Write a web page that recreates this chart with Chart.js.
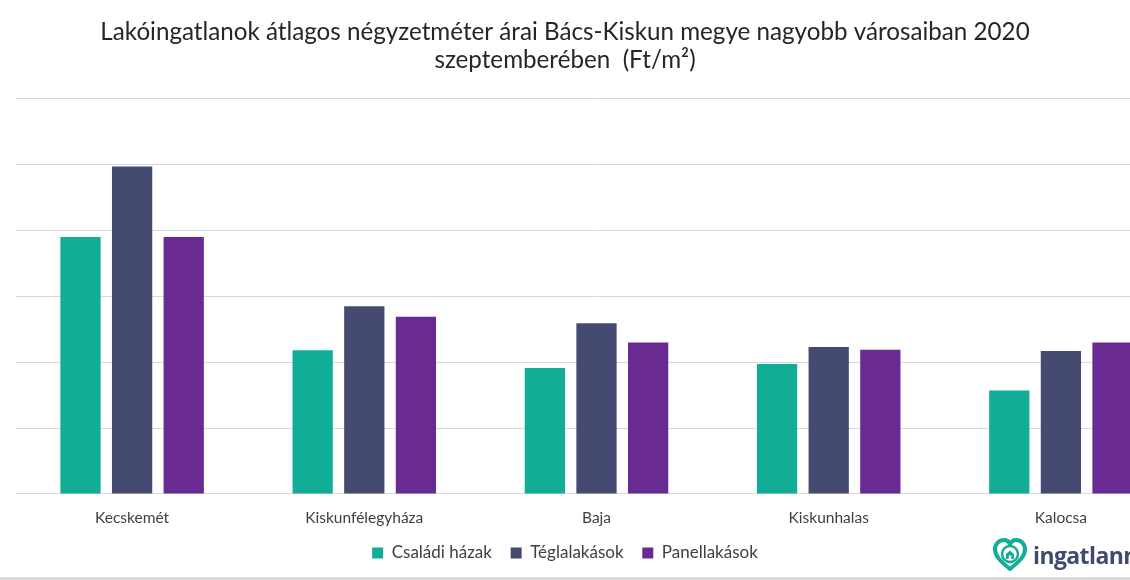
<!DOCTYPE html>
<html lang="hu">
<head>
<meta charset="utf-8">
<title>Lakóingatlanok átlagos négyzetméter árai</title>
<script src="https://cdn.jsdelivr.net/npm/chart.js@4.4.1/dist/chart.umd.min.js"></script>
<style>
    html, body { margin: 0; padding: 0; background: #fff; }
    body { width: 1130px; height: 580px; overflow: hidden; position: relative; }
    #wrap { position: absolute; left: -66px; top: 0; width: 1262px; height: 580px; }
    #logo { position: absolute; left: 992px; top: 536px; height: 38px; display: flex; align-items: center; white-space: nowrap; }
    #logo span { font-family: "Open Sans", sans-serif; font-weight: 700; font-size: 23px; color: #3f4a6e; margin-left: 5px; letter-spacing: -0.6px; }
    #bottomLine { position: absolute; left: 0; right: 0; bottom: 0; height: 3px; background: #d9d9d9; }
</style>
</head>
<body>
<div id="wrap"><canvas id="priceChart"></canvas></div>
<div id="logo">
    <svg width="36" height="36" viewBox="0 0 36 36">
        <path d="M18 32 C8 24 3 19 3 12 C3 7 7 3 12 3 C15 3 17 5 18 7 C19 5 21 3 24 3 C29 3 33 7 33 12 C33 19 28 24 18 32 Z" fill="none" stroke="#12ad97" stroke-width="4" stroke-linejoin="round"/>
        <circle cx="18" cy="17" r="8" fill="none" stroke="#12ad97" stroke-width="2.5"/>
        <path d="M14 22 L14 17 L18 13.5 L22 17 L22 22 Z" fill="#12ad97"/>
        <rect x="16.8" y="18.5" width="2.4" height="3.5" fill="#fff"/>
    </svg>
    <span>ingatlannet</span>
</div>
<div id="bottomLine"></div>
<script>
// categories and values (Ft/m2)
const cities = ['Kecskemét', 'Kiskunfélegyháza', 'Baja', 'Kiskunhalas', 'Kalocsa'];
const csaladiHazak = [390000, 218000, 191000, 197000, 157000];
const teglalakasok = [497000, 285000, 259000, 223000, 217000];
const panellakasok = [390000, 269000, 230000, 219000, 230000];
const yTicks = [0, 100000, 200000, 300000, 400000, 500000, 600000];

const fontFamily = 'Lato, "Open Sans", sans-serif';

document.addEventListener('DOMContentLoaded', function() {
    const ctx = document.getElementById('priceChart').getContext('2d');

    new Chart(ctx, {
        type: 'bar',
        data: {
            labels: cities,
            datasets: [
                { label: 'Családi házak', data: csaladiHazak, backgroundColor: '#12ad97' },
                { label: 'Téglalakások', data: teglalakasok, backgroundColor: '#454b70' },
                { label: 'Panellakások', data: panellakasok, backgroundColor: '#692b91' }
            ]
        },
        options: {
            responsive: true,
            maintainAspectRatio: false,
            animation: false,
            categoryPercentage: 0.667,
            barPercentage: 0.78,
            // the y labels sit left of the visible window, like in the cropped original
            layout: { padding: { left: 19, right: 19, top: 18, bottom: 8.5 } },
            scales: {
                x: {
                    grid: { display: false },
                    border: { display: false },
                    ticks: { color: '#404040', font: { family: fontFamily, size: 15.5 }, padding: 7 }
                },
                y: {
                    min: yTicks[0],
                    max: yTicks[yTicks.length - 1],
                    afterBuildTicks: function(scale) {
                        scale.ticks = yTicks.map(v => ({ value: v }));
                    },
                    afterFit: function(scale) {
                        scale.width = 63;
                    },
                    grid: { color: '#d9d9d9', lineWidth: 1, drawTicks: false },
                    border: { display: false },
                    ticks: {
                        color: '#595959',
                        padding: 22,
                        font: { family: fontFamily, size: 15 },
                        callback: function(value) {
                            return value.toLocaleString('hu-HU');
                        }
                    }
                }
            },
            plugins: {
                title: {
                    display: true,
                    text: ['Lakóingatlanok átlagos négyzetméter árai Bács-Kiskun megye nagyobb városaiban 2020',
                           'szeptemberében  (Ft/m²)'],
                    color: '#262626',
                    font: { family: fontFamily, size: 24.2, weight: 'normal', lineHeight: 1.17 },
                    padding: { top: 0, bottom: 24 }
                },
                legend: {
                    position: 'bottom',
                    labels: {
                        color: '#404040',
                        font: { family: fontFamily, size: 17 },
                        boxWidth: 11,
                        boxHeight: 11,
                        padding: 10,
                        // small padding keeps the legend close to the axis; spaces widen the item gaps
                        generateLabels: function(chart) {
                            const items = Chart.defaults.plugins.legend.labels.generateLabels(chart);
                            items.forEach((item, i) => {
                                if (i < items.length - 1) item.text = item.text + '  ';
                            });
                            return items;
                        }
                    }
                },
                tooltip: { enabled: false }
            }
        }
    });
});
</script>
</body>
</html>
